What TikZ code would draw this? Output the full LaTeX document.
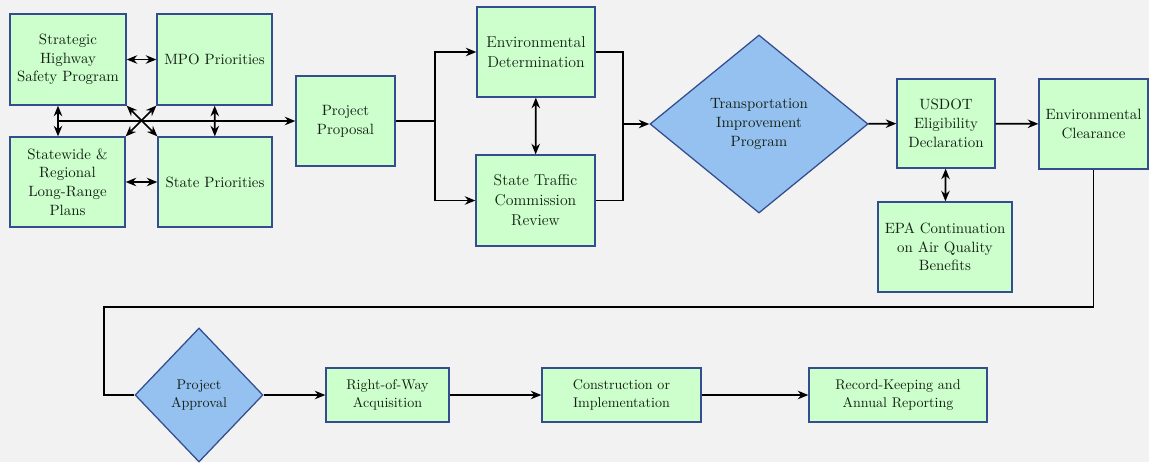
\documentclass[tikz,border=0pt]{standalone}
\usetikzlibrary{positioning,arrows.meta,shapes.geometric}
\definecolor{bggray}{HTML}{F2F2F2}
\definecolor{boxgreen}{HTML}{CCFFCC}
\definecolor{boxblue}{HTML}{334D8F}
\definecolor{decblue}{HTML}{94C1F0}
\definecolor{textdark}{HTML}{142014}

\begin{document}
\begin{tikzpicture}[x=0.025cm,y=-0.025cm,
        box/.style={draw=boxblue,fill=boxgreen,line width=0.9pt,align=center,text=textdark,
            font=\fontsize{10.6}{13.3}\selectfont,minimum height=2.25cm,inner sep=2pt},
        bigtext/.style={font=\fontsize{11.2}{14.2}\selectfont},
        smalltext/.style={font=\fontsize{10}{12.5}\selectfont,minimum height=1.35cm},
        decision/.style={box,diamond,fill=decblue,inner sep=0pt},
        lk/.style={line width=1.2pt,black,>={Stealth[length=7.5pt,width=6pt]}}]
        \path[use as bounding box,fill=bggray] (0,0) rectangle (1149,462);
        \node[box,minimum width=2.9cm,minimum height=2.275cm] at (68,59.5) (shsp) {Strategic\\Highway\\Safety Program};
        \node[box,minimum width=2.875cm,minimum height=2.275cm] at (214.5,59.5) (mpo) {MPO Priorities};
        \node[box,minimum width=2.875cm] at (67.5,182) (lrp) {Statewide \&\\Regional\\Long-Range\\Plans};
        \node[box,minimum width=2.85cm] at (215,182) (state) {State Priorities};
        \node[box,minimum width=2.475cm] at (345.5,121) (proposal) {Project\\Proposal};
        \node[box,bigtext,minimum width=2.95cm] at (536,52) (envdet) {Environmental\\Determination};
        \node[box,bigtext,minimum width=2.975cm,minimum height=2.275cm] at (535.5,200.5) (stc) {State Traffic\\Commission\\Review};
        \node[decision,minimum width=5.45cm,minimum height=4.45cm] at (759,124) (tip) {Transportation\\Improvement\\Program};
        \node[box,minimum width=2.45cm,minimum height=2.225cm] at (946,123.5) (usdot) {USDOT\\Eligibility\\Declaration};
        \node[box,minimum width=2.725cm] at (1093.5,124) (envclr) {Environmental\\Clearance};
        \node[box,minimum width=3.35cm] at (945,247) (epa) {EPA Continuation\\on Air Quality\\Benefits};
        \node[decision,smalltext,minimum width=3.2cm,minimum height=3.35cm] at (199,395) (approval) {Project\\Approval};
        \node[box,smalltext,minimum width=3.075cm] at (387.5,395) (row) {Right-of-Way\\Acquisition};
        \node[box,smalltext,minimum width=3.975cm] at (621.5,395) (constr) {Construction or\\Implementation};
        \node[box,smalltext,minimum width=4.45cm] at (898,395) (record) {Record-Keeping and\\Annual Reporting};
        \coordinate (jl) at (58,121);
        \coordinate (sp) at (435,121);
        \coordinate (jn) at (623,124);
        \coordinate (ll) at (104,307);
        \path[<->, lk]
        (shsp) edge (mpo)
        (lrp) edge (state)
        (shsp.south east) edge (state.north west)
        (mpo.south west) edge (lrp.north east)
        (mpo) edge (state)
        (shsp.south -| jl) edge (lrp.north -| jl)
        (envdet) edge (stc)
        (usdot) edge (epa)
        ;
        \path[->, lk]
        (jl) edge (proposal)
        (jn) edge (tip)
        (tip) edge (usdot)
        (usdot) edge (envclr)
        (approval) edge (row)
        (row) edge (constr)
        (constr) edge (record)
        ;
        \draw[lk] (proposal) -- (sp);
        \draw[->, lk] (sp) |- (envdet);
        \draw[->, lk] (sp) |- (stc);
        \draw[lk] (envdet) -| (jn);
        \draw[lk] (stc) -| (jn);
        \draw[lk] (envclr) |- (ll) |- (approval);
    \end{tikzpicture}
\end{document}
